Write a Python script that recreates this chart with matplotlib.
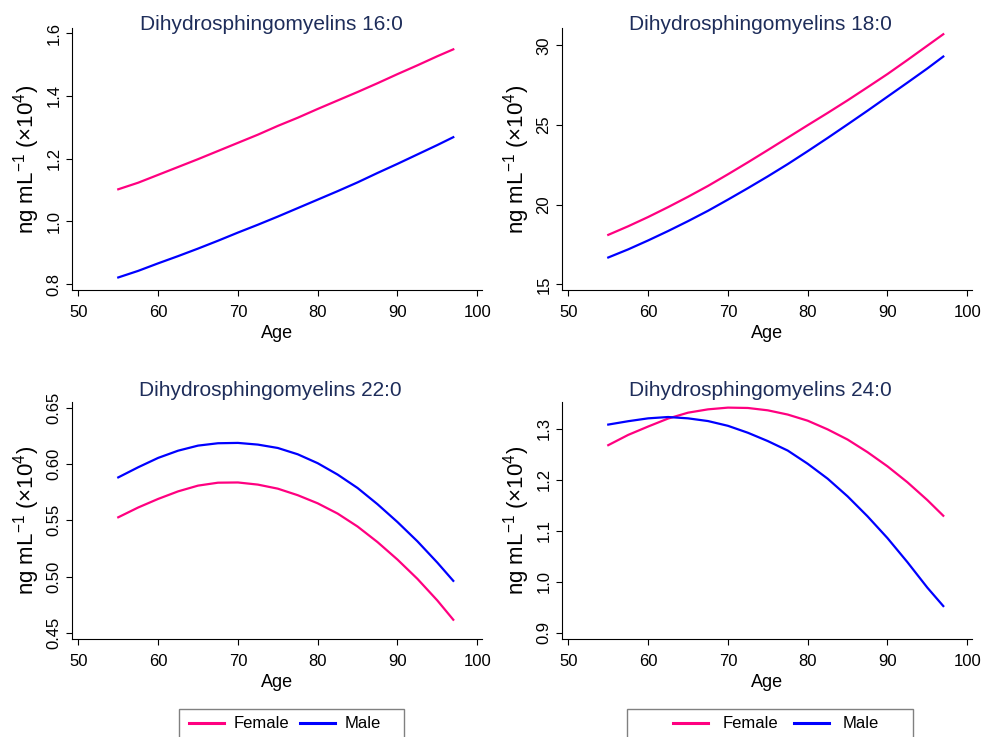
import matplotlib
matplotlib.use('Agg')
import matplotlib.pyplot as plt
from matplotlib.lines import Line2D
from matplotlib.patches import Rectangle

plt.rcParams['font.family'] = ['Liberation Sans', 'DejaVu Sans']
plt.rcParams['mathtext.fontset'] = 'custom'
plt.rcParams['mathtext.rm'] = 'Liberation Sans'

# ====================================
# DATA
# ====================================

age = [55, 57.5, 60, 62.5, 65, 67.5, 70, 72.5, 75, 77.5,
       80, 82.5, 85, 87.5, 90, 92.5, 95, 97]

titles = ['Dihydrosphingomyelins 16:0', 'Dihydrosphingomyelins 18:0',
          'Dihydrosphingomyelins 22:0', 'Dihydrosphingomyelins 24:0']

female_16 = [1.102, 1.123, 1.148, 1.173, 1.198, 1.224, 1.250, 1.276, 1.304,
             1.330, 1.358, 1.385, 1.412, 1.440, 1.469, 1.497, 1.526, 1.548]
male_16 = [0.821, 0.842, 0.866, 0.889, 0.913, 0.938, 0.964, 0.989, 1.015,
           1.042, 1.069, 1.096, 1.124, 1.154, 1.183, 1.213, 1.243, 1.268]

female_18 = [18.11, 18.65, 19.23, 19.85, 20.50, 21.18, 21.91, 22.66, 23.43,
             24.21, 24.99, 25.76, 26.55, 27.37, 28.20, 29.08, 29.98, 30.70]
male_18 = [16.69, 17.20, 17.76, 18.35, 18.97, 19.62, 20.32, 21.04, 21.78,
           22.55, 23.36, 24.19, 25.04, 25.90, 26.78, 27.66, 28.55, 29.30]

female_22 = [0.5527, 0.5614, 0.5690, 0.5757, 0.5808, 0.5834, 0.5836, 0.5817, 0.5781,
             0.5723, 0.5651, 0.5560, 0.5445, 0.5307, 0.5152, 0.4981, 0.4789, 0.4618]
male_22 = [0.5881, 0.5971, 0.6054, 0.6118, 0.6163, 0.6184, 0.6187, 0.6172, 0.6142,
           0.6086, 0.6007, 0.5906, 0.5787, 0.5643, 0.5485, 0.5314, 0.5125, 0.4963]

female_24 = [1.2675, 1.2876, 1.3040, 1.3196, 1.3311, 1.3376, 1.3410, 1.3403, 1.3357,
             1.3274, 1.3154, 1.2984, 1.2785, 1.2538, 1.2261, 1.1949, 1.1600, 1.1293]
male_24 = [1.3078, 1.3144, 1.3200, 1.3226, 1.3200, 1.3147, 1.3054, 1.2918, 1.2755,
           1.2569, 1.2311, 1.2019, 1.1673, 1.1282, 1.0856, 1.0385, 0.9886, 0.9525]

yticks_list = [[0.8, 1.0, 1.2, 1.4, 1.6],
               [15, 20, 25, 30],
               [0.45, 0.50, 0.55, 0.60, 0.65],
               [0.9, 1.0, 1.1, 1.2, 1.3]]
ylims = [(0.781, 1.616), (14.65, 31.09), (0.4447, 0.655), (0.888, 1.352)]
yfmt = ['%.1f', '%d', '%.2f', '%.1f']

females = [female_16, female_18, female_22, female_24]
males = [male_16, male_18, male_22, male_24]

pink = '#FF0080'
blue = '#0000FF'
navy = '#1E2D5A'

# ====================================
# FIGURE
# ====================================

W, H = 984, 737
fig = plt.figure(figsize=(W / 100, H / 100), dpi=100)

# axes boxes in pixels: left, right, top, bottom
boxes = [(72, 482, 28, 290), (562, 972, 28, 290),
         (72, 482, 402, 639), (562, 972, 402, 639)]
# title centre x and baseline y in pixels
title_pos = [(271, 30), (760, 30), (270, 396), (760, 396)]

for i in range(4):
    l, r, t, b = boxes[i]
    ax = fig.add_axes([l / W, 1 - b / H, (r - l) / W, (b - t) / H])
    ax.plot(age, females[i], color=pink, lw=1.6)
    ax.plot(age, males[i], color=blue, lw=1.6)
    ax.set_xlim(49.2, 100.6)
    ax.set_xticks([50, 60, 70, 80, 90, 100])
    ax.set_ylim(*ylims[i])
    ax.set_yticks(yticks_list[i])
    ax.set_yticklabels([yfmt[i] % v for v in yticks_list[i]], rotation=90, va='center')
    ax.spines['top'].set_visible(False)
    ax.spines['right'].set_visible(False)
    ax.tick_params(labelsize=12, length=4, width=0.8)
    ax.tick_params(axis='x', pad=6.5)
    ax.set_xlabel('Age', fontsize=13, labelpad=4)
    ax.set_ylabel(r'ng mL$^{-1}$ ($\times$10$^{4}$)', fontsize=16, labelpad=3)
    tx, ty = title_pos[i]
    fig.text(tx / W, 1 - ty / H, titles[i], fontsize=15, color=navy,
             ha='center', va='baseline')

# ====================================
# LEGENDS (box runs off the bottom edge)
# ====================================

handles = [Line2D([], [], color=pink, lw=2.2), Line2D([], [], color=blue, lw=2.2)]

# frame left, frame right, first handle x, text pad, column spacing
leg_specs = [(179, 404, 189, 0.55, 0.7), (627, 913, 673, 0.85, 0.95)]
for fl, fr, hx, tpad, cspace in leg_specs:
    fig.legend(handles, ['Female', 'Male'], loc='center left',
               bbox_to_anchor=(hx / W, 1 - 724 / H), ncol=2, fontsize=12,
               frameon=False, handlelength=2.1, handletextpad=tpad,
               columnspacing=cspace, borderpad=0, borderaxespad=0)
    fig.patches.append(Rectangle((fl / W, -0.05), (fr - fl) / W, 0.05 + 1 - 709 / H,
                                 transform=fig.transFigure, fill=False,
                                 edgecolor='#808080', lw=1))

plt.savefig('out.png', dpi=100)
